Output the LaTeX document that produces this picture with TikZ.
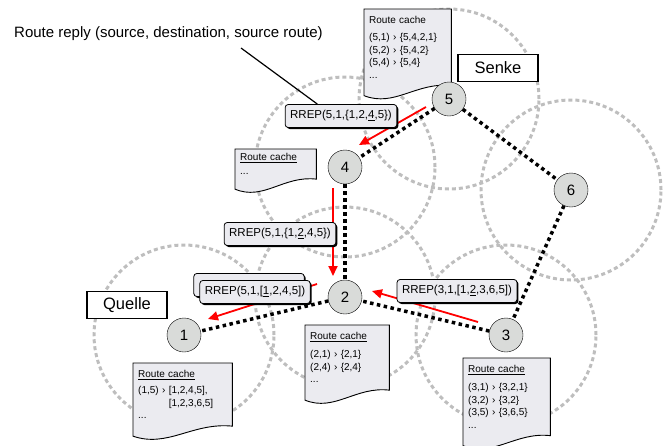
\documentclass[tikz,border=0pt]{standalone}
\usepackage{fontspec}
\setmainfont{Liberation Sans}
\usetikzlibrary{arrows.meta,calc,shadows}
\definecolor{boxgray}{RGB}{235,235,240}
\definecolor{hostgray}{RGB}{217,219,217}
\definecolor{reachgray}{RGB}{190,190,190}
\pgfdeclarelayer{ranges}
\pgfdeclarelayer{paper}
\pgfsetlayers{ranges,paper,main}

% sheet with a wavy lower edge behind a cache node
\newcommand{\cachesheet}[1]{%
  \begin{pgfonlayer}{paper}
  \filldraw[sheet] (#1.north west) -- (#1.north east) -- (#1.south east)
    .. controls ($(#1.south west)!0.6!(#1.south east)+(0,-4)$) and ($(#1.south west)!0.35!(#1.south east)+(0,22)$) .. ($(#1.south west)+(0,10)$) -- cycle;
  \end{pgfonlayer}}

\begin{document}
\begin{tikzpicture}[x=1pt, y=-1pt,
  host/.style = {draw, circle, fill=hostgray, minimum size=34pt, inner sep=0pt, font=\fontsize{15}{15}\selectfont},
  reach/.style = {reachgray, line width=3pt, dash pattern=on 4pt off 3pt},
  link/.style = {line width=3.5pt, dash pattern=on 3.5pt off 3.5pt},
  reply/.style = {red, line width=1.8pt, -{Triangle[length=10pt,width=9pt]}},
  rrep/.style = {draw, rounded corners=3pt, fill=boxgray, line width=0.8pt, minimum height=23pt, inner xsep=5pt,
    font=\fontsize{11.5}{13}\selectfont, drop shadow={shadow xshift=1.5pt, shadow yshift=-1.5pt, fill=black, opacity=1}},
  cache/.style = {anchor=north west, inner xsep=5pt, inner ysep=7pt, align=left, font=\fontsize{10}{12.5}\selectfont},
  sheet/.style = {draw, fill=boxgray, line width=0.9pt},
  tag/.style = {draw, fill=white, line width=1.5pt, minimum width=80pt, minimum height=27pt, font=\fontsize{16.5}{18}\selectfont}]
\useasboundingbox (0,0) rectangle (666,445);

% hosts
\node[host] (n5) at (449,99) {5};
\node[host] (n4) at (345,167) {4};
\node[host] (n6) at (571,190) {6};
\node[host] (n2) at (345,297) {2};
\node[host] (n1) at (184,335) {1};
\node[host] (n3) at (506,335) {3};

% radio ranges
\begin{pgfonlayer}{ranges}
\foreach \n in {1,...,6}
  \draw[reach] (n\n) circle[radius=90pt];
\end{pgfonlayer}

% links
\draw[link] (n5) -- (n4);
\draw[link] (n5) -- (n6);
\draw[link] (n6) -- (n3);
\draw[link] (n3) -- (n2);
\draw[link] (n4) -- (n2);
\draw[link] (n2) -- (n1);

% route reply hops
\coordinate (a54) at (426,107); \coordinate (b54) at (359,145);
\coordinate (a42) at (333,188); \coordinate (b42) at (333,276);
\coordinate (a21) at (317,284); \coordinate (b21) at (208,319);
\coordinate (a32) at (478,322); \coordinate (b32) at (372,291);
\draw[reply] (a54) -- (b54);
\draw[reply] (a42) -- (b42);
\draw[reply] (a21) -- (b21);
\draw[reply] (a32) -- (b32);

% RREP packets
\node[rrep] (r54) at (341,116) {RREP(5,1,\{1,2,\underline{4},5\})};
\node[rrep] (r42) at (280,234) {RREP(5,1,\{1,\underline{2},4,5\})};
\node[rrep] (r21b) at (249,285) {\phantom{RREP(5,1,[1,2,4,5])}};
\node[rrep] (r21) at (255,292) {RREP(5,1,[\underline{1},2,4,5])};
\node[rrep] (r32) at (457,291) {RREP(3,1,[1,\underline{2},3,6,5])};

% route caches
\node[cache, text width=77pt, minimum height=68pt] (c5) at (364,9)
  {Route cache\\[5pt] (5,1) › \{5,4,2,1\}\\ (5,2) › \{5,4,2\}\\ (5,4) › \{5,4\}\\ ...};
\cachesheet{c5}
\node[cache, text width=71pt, minimum height=28pt, inner ysep=4pt] (c4) at (235,149)
  {\underline{Route cache}\\[2pt] ...};
\cachesheet{c4}
\node[cache, text width=74pt, minimum height=60pt] (c2) at (305,325)
  {\underline{Route cache}\\[6pt] (2,1) › \{2,1\}\\ (2,4) › \{2,4\}\\ ...};
\cachesheet{c2}
\node[cache, text width=89pt, minimum height=62pt] (c1) at (133,363)
  {\underline{Route cache}\\[4pt] (1,5) › [1,2,4,5],\\ \phantom{(1,5) › }[1,2,3,6,5]\\ ...};
\cachesheet{c1}
\node[cache, text width=77pt, minimum height=74pt] (c3) at (463,358)
  {\underline{Route cache}\\[6pt] (3,1) › \{3,2,1\}\\ (3,2) › \{3,2\}\\ (3,5) › \{3,6,5\}\\ ...};
\cachesheet{c3}

% source and sink
\node[tag] (senke) at (498,68) {Senke};
\node[tag] (quelle) at (127,305) {Quelle};

% caption
\node[anchor=base west, inner sep=0pt, font=\fontsize{15}{17}\selectfont] (title) at (14,37)
  {Route reply (source, destination, source route)};
\coordinate (lead) at (241,48);
\draw[line width=1.2pt] (lead) -- ($(r54.north west)!0.29!(r54.north east)$);
\end{tikzpicture}
\end{document}
